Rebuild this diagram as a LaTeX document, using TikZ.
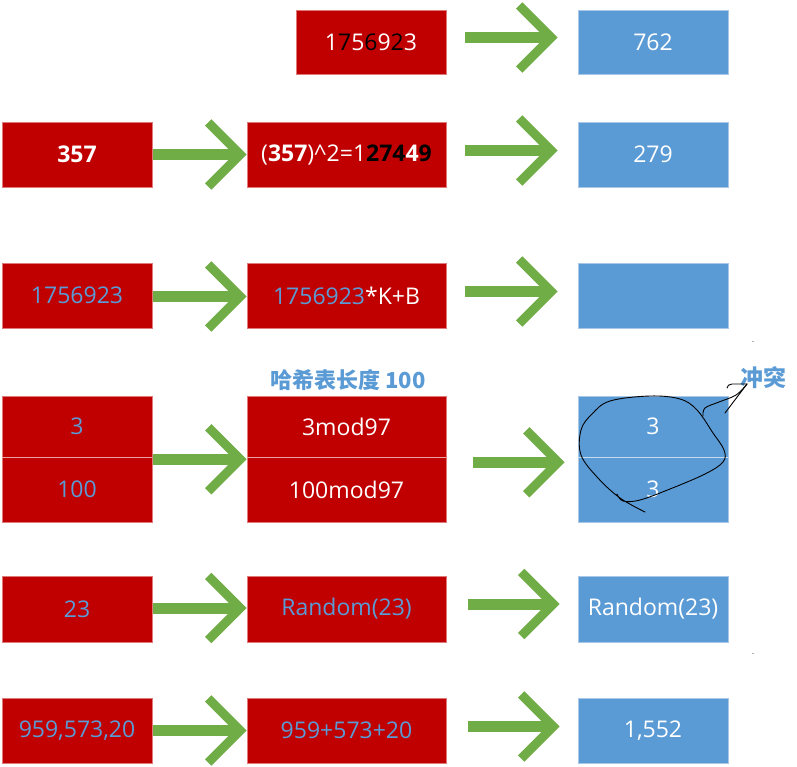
\documentclass[tikz,border=0pt]{standalone}
\usepackage{fontspec}
\setmainfont{Open Sans}
\newfontfamily\cjk{Noto Sans CJK SC}
\usetikzlibrary{calc}
\definecolor{hred}{HTML}{C00000}
\definecolor{hredline}{HTML}{E07A7A}
\definecolor{hredsep}{HTML}{EBA3A3}
\definecolor{hblue}{HTML}{5B9BD5}
\definecolor{hblueline}{HTML}{A9C8E8}
\definecolor{hbluesep}{HTML}{C5DCF0}
\definecolor{hgreen}{HTML}{70AD47}
\newcommand\digk[1]{\textcolor{black}{#1}}
\newcommand\digb[1]{\textcolor{hblue}{#1}}
\newcommand\barrow[2]{%
  \draw[arrshaft] (#1) -- ($(#2)+(-9.5,0)$);
  \draw[arrhead] ($(#2)+(-38.5,-32)$) -- ($(#2)+(-6.5,0)$) -- ($(#2)+(-38.5,32)$);
}
\begin{document}
\begin{tikzpicture}[x=1pt,y=-1pt,
  box/.style={inner sep=0pt, text=white, font=\fontsize{23}{28}\selectfont,
              minimum width=150pt, minimum height=64pt},
  redbox/.style={box, fill=hred, draw=hredline, line width=0.6pt},
  bluebox/.style={box, fill=hblue, draw=hblueline, line width=0.6pt},
  wide/.style={minimum width=199pt},
  arrshaft/.style={draw=hgreen, line width=11pt},
  arrhead/.style={draw=hgreen, line width=9pt, line join=miter},
  sepR/.style={draw=hredsep, line width=1.2pt},
  sepB/.style={draw=hbluesep, line width=1.2pt},
  hand/.style={draw=black, line width=0.9pt, line cap=round, line join=round},
  note/.style={text=hblue, font=\cjk\bfseries\fontsize{22}{26}\selectfont, inner sep=0pt}]
\useasboundingbox (0,0) rectangle (797,767);

% ---------- row 1
\node[redbox] (r1) at (371,42) {1\digk{7}5\digk{6}9\digk{2}3};
\node[bluebox] (b1) at (653,42) {762};

% ---------- row 2
\node[redbox, minimum height=65pt] (a2) at (77,154.5) {\bfseries 357};
\node[redbox, wide, minimum height=65pt] (m2) at (346.5,154.5)
  {(\textbf{357})\^{}2=1\textbf{\digk{2}\digk{7}\digk{4}4\digk{9}}};
\node[bluebox, minimum height=65pt] (b2) at (653,154.5) {279};

% ---------- row 3
\node[redbox, minimum height=65pt] (a3) at (77,295.5) {\digb{1756923}};
\node[redbox, wide, minimum height=65pt] (m3) at (346.5,295.5) {\digb{1756923}*K+B};
\node[bluebox, minimum height=65pt] (b3) at (653,295.5) {};

% ---------- row 4
\node[note] (title) at (348,380) {哈希表长度 100};
\node[redbox, minimum height=61pt] (a4t) at (77,426.5) {\digb{3}};
\node[redbox, minimum height=65pt] (a4b) at (77,489.5) {\digb{100}};
\node[redbox, wide, minimum height=61pt] (m4t) at (346.5,426.5) {3mod97};
\node[redbox, wide, minimum height=65pt] (m4b) at (346.5,489.5) {100mod97};
\node[bluebox, minimum height=61pt] (b4t) at (653,426.5) {3};
\node[bluebox, minimum height=65pt] (b4b) at (653,489.5) {3};
\draw[sepR] (a4t.south west) -- (a4t.south east);
\draw[sepR] (m4t.south west) -- (m4t.south east);
\draw[sepB] (b4t.south west) -- (b4t.south east);
\node[note, font=\cjk\bfseries\fontsize{23}{26}\selectfont] (conf) at (763,378) {冲突};

% ---------- row 5
\node[redbox, minimum height=66pt] (a5) at (77,609) {\digb{23}};
\node[redbox, wide, minimum height=66pt] (m5) at (346.5,609) {\digb{Random(23)}};
\node[bluebox, minimum height=66pt] (b5) at (653,609) {Random(23)};

% ---------- row 6
\node[redbox, minimum height=65pt] (a6) at (77,730.5) {\digb{959,573,20}};
\node[redbox, wide, minimum height=65pt] (m6) at (346.5,730.5) {\digb{959+573+20}};
\node[bluebox, minimum height=65pt] (b6) at (653,730.5) {1,552};

% ---------- arrow end points
\coordinate (s1b) at ($(r1.east)+(19,-4.5)$);
\coordinate (t1b) at ($(b1.west)+(-20,-4.5)$);
\coordinate (s2a) at ($(a2.east)+(1,0)$);
\coordinate (t2a) at (m2.west);
\coordinate (s2b) at ($(m2.east)+(19,-4)$);
\coordinate (t2b) at ($(b2.west)+(-20,-4)$);
\coordinate (s3a) at ($(a3.east)+(1,1)$);
\coordinate (t3a) at ($(m3.west)+(0,1)$);
\coordinate (s3b) at ($(m3.east)+(19,-4)$);
\coordinate (t3b) at ($(b3.west)+(-20,-4)$);
\coordinate (s4a) at ($(a4t.south east)+(1,2)$);
\coordinate (t4a) at ($(m4t.south west)+(0,2)$);
\coordinate (s4b) at ($(m4t.south east)+(27,5)$);
\coordinate (t4b) at ($(b4t.south west)+(-13,5)$);
\coordinate (s5a) at ($(a5.east)+(1,-1)$);
\coordinate (t5a) at ($(m5.west)+(0,-1)$);
\coordinate (s5b) at ($(m5.east)+(22,-5)$);
\coordinate (t5b) at ($(b5.west)+(-18,-5)$);
\coordinate (s6a) at ($(a6.east)+(1,0)$);
\coordinate (t6a) at (m6.west);
\coordinate (s6b) at ($(m6.east)+(22,-4)$);
\coordinate (t6b) at ($(b6.west)+(-18,-4)$);

\barrow{s1b}{t1b}
\barrow{s2a}{t2a}
\barrow{s2b}{t2b}
\barrow{s3a}{t3a}
\barrow{s3b}{t3b}
\barrow{s4a}{t4a}
\barrow{s4b}{t4b}
\barrow{s5a}{t5a}
\barrow{s5b}{t5b}
\barrow{s6a}{t6a}
\barrow{s6b}{t6b}

% ---------- hand-drawn collision mark
\draw[hand] plot[smooth, tension=0.6] coordinates {
  (645,512) (620,498) (598,478) (581,455) (581,430) (592,414) (610,401)
  (650,396) (680,399) (697,410) (713,433) (724,450) (723,462) (705,474)
  (670,489) (640,500) (623,501) (617,494)};
\draw[hand] plot[smooth, tension=0.6] coordinates {
  (703,416) (705,408) (719,402) (736,395) (747,384)};
\draw[hand] (747,384) -- (725,413);
\draw[hand] (747,384) -- (732,384) .. controls (729,384) and (727,386) .. (727,388);

% ---------- tiny specks
\fill[gray!60] (752,340.5) rectangle (753.5,341.7);
\fill[gray!60] (752,652.5) rectangle (753.5,653.7);
\end{tikzpicture}
\end{document}
